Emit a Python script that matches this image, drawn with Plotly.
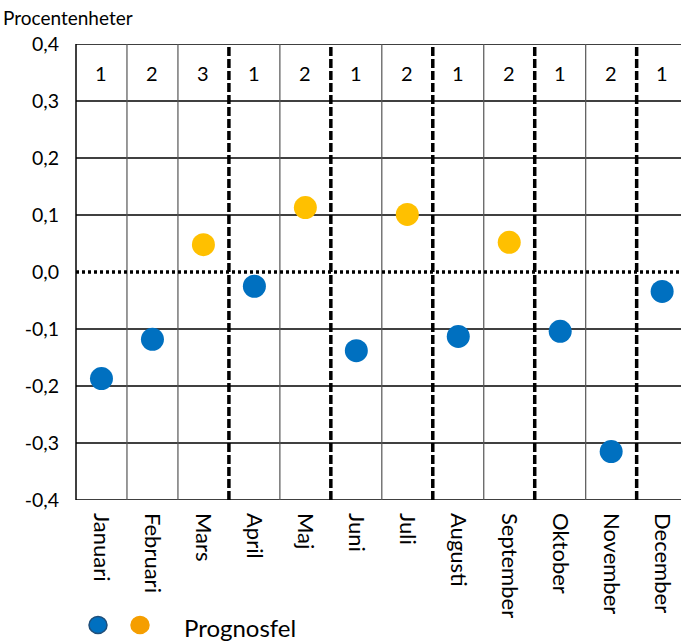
import plotly.graph_objects as go

# Months, forecast errors (percentage points) and month-in-quarter numbering
months = ["Januari", "Februari", "Mars", "April", "Maj", "Juni",
          "Juli", "Augusti", "September", "Oktober", "November", "December"]
prognosfel = [-0.187, -0.118, 0.048, -0.025, 0.113, -0.138,
              0.101, -0.113, 0.052, -0.104, -0.315, -0.034]
period_nr = ["1", "2", "3", "1", "2", "1", "2", "1", "2", "1", "2", "1"]
y_ticks = [-0.4, -0.3, -0.2, -0.1, 0.0, 0.1, 0.2, 0.3, 0.4]
y_tick_text = ["-0,4", "-0,3", "-0,2", "-0,1", "0,0", "0,1", "0,2", "0,3", "0,4"]

BLUE = "#0070C0"
ORANGE = "#FFC000"
FONT = "Lato"

x_idx = list(range(len(months)))
colors = [ORANGE if v > 0 else BLUE for v in prognosfel]

fig = go.Figure()
fig.add_trace(go.Scatter(
    x=x_idx, y=prognosfel, mode="markers",
    marker=dict(size=23, color=colors, line=dict(width=0)),
    showlegend=False, hoverinfo="skip",
))

shapes = []
# horizontal grid lines; the outer frame lines are paper-referenced so they are not clipped
for v in y_ticks:
    if abs(v) < 1e-9:
        continue
    if abs(abs(v) - 0.4) < 1e-9:
        shapes.append(dict(type="line", xref="paper", yref="y", x0=0, x1=1, y0=v, y1=v,
                           line=dict(color="#000000", width=1.5), layer="below"))
    else:
        shapes.append(dict(type="line", xref="x", yref="y", x0=-0.5, x1=11.5, y0=v, y1=v,
                           line=dict(color="#000000", width=1.3), layer="below"))
# vertical column boundaries: dashed where a new period starts
for b in range(len(months) + 1):
    xb = b - 0.5
    starts_group = 0 < b < len(months) and period_nr[b] == "1"
    if b == 0:
        shapes.append(dict(type="line", xref="paper", yref="y", x0=0, x1=0, y0=-0.4, y1=0.4,
                           line=dict(color="#000000", width=1.5), layer="below"))
        continue
    if starts_group:
        line = dict(color="#000000", width=3.5, dash="9px,3px")
    else:
        line = dict(color="#555555", width=1.2)
    shapes.append(dict(type="line", xref="x", yref="y", x0=xb, x1=xb, y0=-0.4, y1=0.4,
                       line=line, layer="below"))
# dotted zero line
shapes.append(dict(type="line", xref="x", yref="y", x0=-0.5, x1=11.5, y0=0, y1=0,
                   line=dict(color="#000000", width=3.5, dash="3px,3px"), layer="below"))

# legend glyphs
for cx, col, edge in [(98, BLUE, "#1F4E79"), (140, "#F59E00", "#F59E00")]:
    shapes.append(dict(type="circle", xref="paper", yref="paper",
                       xsizemode="pixel", ysizemode="pixel",
                       xanchor=(cx - 76) / (681 - 76), yanchor=-(625 - 500) / (500 - 44),
                       x0=-9, x1=9, y0=-8.5, y1=8.5,
                       fillcolor=col, line=dict(color=edge, width=1.5)))

annotations = []
for i, n in enumerate(period_nr):
    annotations.append(dict(x=i, y=0.35, xref="x", yref="y", text=n, showarrow=False,
                            font=dict(family=FONT, size=20, color="#000000")))
annotations.append(dict(x=0, y=1, xref="paper", yref="paper", xshift=-75, yshift=13,
                        xanchor="left", yanchor="bottom", text="Procentenheter",
                        showarrow=False, font=dict(family=FONT, size=19, color="#000000")))
annotations.append(dict(x=(182 - 76) / (681 - 76), y=-(627 - 500) / (500 - 44),
                        xref="paper", yref="paper", xanchor="left", yanchor="middle",
                        text="Prognosfel", showarrow=False,
                        font=dict(family=FONT, size=24, color="#000000")))

fig.update_layout(
    width=681, height=641,
    margin=dict(l=76, r=0, t=44, b=141),
    paper_bgcolor="white", plot_bgcolor="white",
    shapes=shapes, annotations=annotations,
    xaxis=dict(range=[-0.5, 11.37], tickmode="array", tickvals=x_idx, ticktext=months,
               tickangle=90, showgrid=False, zeroline=False, showline=False, ticks="",
               ticklabelstandoff=12,
               tickfont=dict(family=FONT, size=22, color="#000000")),
    yaxis=dict(range=[-0.4, 0.4], tickmode="array", tickvals=y_ticks, ticktext=y_tick_text,
               showgrid=False, zeroline=False, showline=False, ticks="",
               ticklabelstandoff=16,
               tickfont=dict(family=FONT, size=19.5, color="#000000")),
)

fig.write_html("out.html")
